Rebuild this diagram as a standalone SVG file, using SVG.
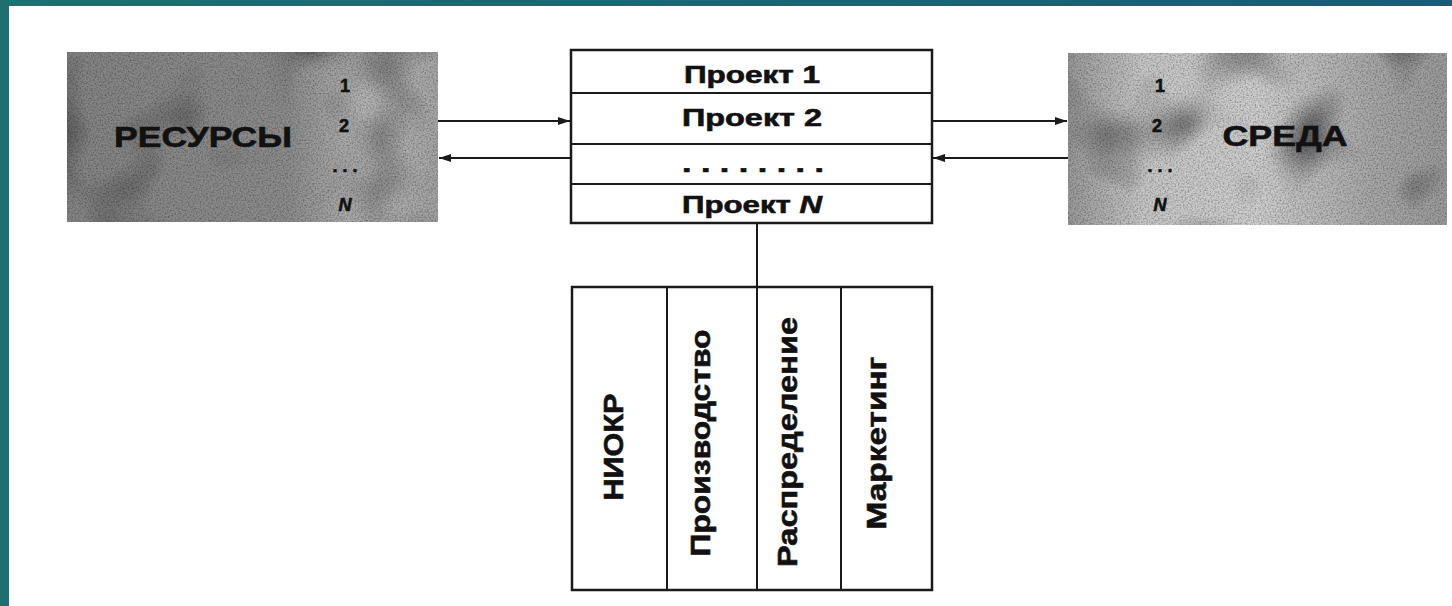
<svg xmlns="http://www.w3.org/2000/svg" width="1452" height="606" viewBox="0 0 1452 606">
<defs>
<style>
.box{fill:#fff;stroke:#1a1a1a;stroke-width:2.5}
.ln{stroke:#1a1a1a;stroke-width:2;fill:none}
.t{font-family:"Liberation Sans",Arial,sans-serif;font-weight:bold;fill:#111;stroke:#111;stroke-width:0.6}
.big{font-size:29px}
.mid{font-size:23px}
.num{font-size:18px}
.vt{font-size:27px}
</style>
<linearGradient id="frame" x1="0" y1="0" x2="1" y2="0">
<stop offset="0" stop-color="#1f6e70"/>
<stop offset="1" stop-color="#1d5a78"/>
</linearGradient>
<linearGradient id="resG" x1="0" y1="0" x2="1" y2="0">
<stop offset="0" stop-color="#858585"/>
<stop offset="0.6" stop-color="#8e8e8e"/>
<stop offset="0.8" stop-color="#b4b4b4"/>
<stop offset="1" stop-color="#a8a8a8"/>
</linearGradient>
<linearGradient id="sreG" x1="0" y1="0" x2="1" y2="0">
<stop offset="0" stop-color="#9a9a9a"/>
<stop offset="0.2" stop-color="#c8c8c8"/>
<stop offset="0.5" stop-color="#cfcfcf"/>
<stop offset="0.8" stop-color="#a9a9a9"/>
<stop offset="1" stop-color="#9c9c9c"/>
</linearGradient>
<filter id="noise" x="0" y="0" width="1" height="1">
<feTurbulence type="fractalNoise" baseFrequency="0.012" numOctaves="2" seed="7" result="big"/>
<feColorMatrix in="big" type="matrix" values="0 0 0 0 0  0 0 0 0 0  0 0 0 0 0  0 0 0 -2.2 1.1" result="bigA"/>
<feComposite in="bigA" in2="SourceGraphic" operator="in" result="blot"/>
<feTurbulence type="fractalNoise" baseFrequency="0.6" numOctaves="2" seed="3" result="n"/>
<feColorMatrix in="n" type="matrix" values="0 0 0 0 0  0 0 0 0 0  0 0 0 0 0  0 0 0 -1.2 0.75" result="a"/>
<feComposite in="a" in2="SourceGraphic" operator="in" result="dots"/>
<feMerge><feMergeNode in="SourceGraphic"/><feMergeNode in="blot"/><feMergeNode in="dots"/></feMerge>
</filter>
<marker id="ah" viewBox="0 0 12 8" refX="12" refY="4" markerWidth="12" markerHeight="8" markerUnits="userSpaceOnUse" orient="auto">
<path d="M0,0 L12,4 L0,8 Z" fill="#1a1a1a"/>
</marker>
</defs>
<rect x="0" y="0" width="1452" height="606" fill="#fff"/>
<rect x="0" y="0" width="1452" height="6" fill="url(#frame)"/>
<rect x="0" y="0" width="9" height="606" fill="#1f6e70"/>

<g id="resources">
<rect x="67" y="52" width="371" height="170" fill="url(#resG)" filter="url(#noise)"/>
<text class="t big" x="203" y="147" text-anchor="middle" textLength="178" lengthAdjust="spacingAndGlyphs">РЕСУРСЫ</text>
<text class="t num" x="345" y="92" text-anchor="middle">1</text>
<text class="t num" x="344" y="132" text-anchor="middle">2</text>
<text class="t num" x="345" y="172" text-anchor="middle">. . .</text>
<text class="t num" x="345" y="211" text-anchor="middle" font-style="italic">N</text>
</g>

<g id="projects">
<rect class="box" x="571" y="50" width="361" height="173"/>
<line class="ln" x1="571" y1="93" x2="932" y2="93"/>
<line class="ln" x1="571" y1="144" x2="932" y2="144"/>
<line class="ln" x1="571" y1="184" x2="932" y2="184"/>
<text class="t mid" x="752" y="83" text-anchor="middle" textLength="136" lengthAdjust="spacingAndGlyphs">Проект 1</text>
<text class="t mid" x="752" y="126" text-anchor="middle" textLength="140" lengthAdjust="spacingAndGlyphs">Проект 2</text>
<text class="t mid" x="753" y="172" text-anchor="middle" textLength="142" lengthAdjust="spacingAndGlyphs">. . . . . . . .</text>
<text class="t mid" x="752" y="213" text-anchor="middle" textLength="140" lengthAdjust="spacingAndGlyphs">Проект <tspan font-style="italic">N</tspan></text>
</g>

<g id="environment">
<rect x="1068" y="53" width="379" height="172" fill="url(#sreG)" filter="url(#noise)"/>
<text class="t big" x="1285" y="146" text-anchor="middle" textLength="125" lengthAdjust="spacingAndGlyphs">СРЕДА</text>
<text class="t num" x="1160" y="92" text-anchor="middle">1</text>
<text class="t num" x="1157" y="132" text-anchor="middle">2</text>
<text class="t num" x="1160" y="172" text-anchor="middle">. . .</text>
<text class="t num" x="1160" y="211" text-anchor="middle" font-style="italic">N</text>
</g>

<g id="functions">
<rect class="box" x="572" y="287" width="360" height="303"/>
<line class="ln" x1="667" y1="287" x2="667" y2="590"/>
<line class="ln" x1="757" y1="287" x2="757" y2="590"/>
<line class="ln" x1="841" y1="287" x2="841" y2="590"/>
<text class="t vt" transform="translate(623,447) rotate(-90)" text-anchor="middle" textLength="107" lengthAdjust="spacingAndGlyphs">НИОКР</text>
<text class="t vt" transform="translate(710,443) rotate(-90)" text-anchor="middle" textLength="227" lengthAdjust="spacingAndGlyphs">Производство</text>
<text class="t vt" transform="translate(797,442) rotate(-90)" text-anchor="middle" textLength="250" lengthAdjust="spacingAndGlyphs">Распределение</text>
<text class="t vt" transform="translate(886,443) rotate(-90)" text-anchor="middle" textLength="173" lengthAdjust="spacingAndGlyphs">Маркетинг</text>
</g>

<g id="connectors">
<line class="ln" x1="438" y1="121" x2="570" y2="121" marker-end="url(#ah)"/>
<line class="ln" x1="571" y1="158" x2="439" y2="158" marker-end="url(#ah)"/>
<line class="ln" x1="932" y1="121" x2="1067" y2="121" marker-end="url(#ah)"/>
<line class="ln" x1="1068" y1="158" x2="933" y2="158" marker-end="url(#ah)"/>
<line class="ln" x1="757" y1="223" x2="757" y2="287"/>
</g>
</svg>
